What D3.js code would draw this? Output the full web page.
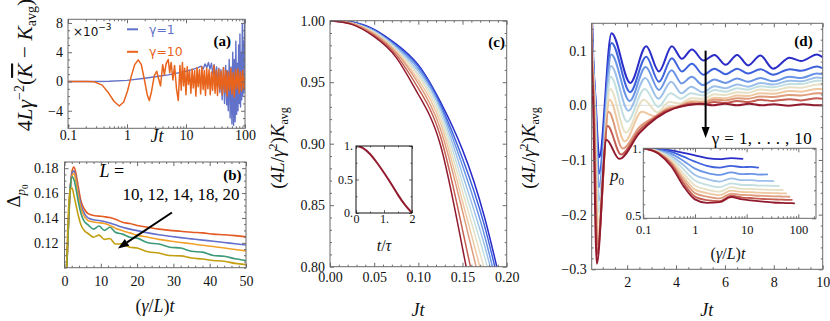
<!DOCTYPE html>
<html lang="en">
<head>
<meta charset="utf-8">
<script src="https://cdn.jsdelivr.net/npm/d3@7"></script>
<style>
  body { margin: 0; background: #fff; }
  svg { font-family: "Liberation Serif", "DejaVu Serif", serif; }
  .ax .domain { display: none; }
  .ax line { stroke: #6a6a6a; }
  .ax text { font-family: "Liberation Serif", serif; font-size: 14px; fill: #111; }
  .frame { fill: none; stroke: #6a6a6a; stroke-width: 1; }
  .curve { fill: none; stroke-linejoin: round; stroke-linecap: round; }
</style>
</head>
<body>
<div id="canvas"></div>
<script>
// ---------- panel (a): 4L gamma^-2 (Kbar - Kavg), in units of 1e-3 ----------
var aGamma1 = [[0.1,0],[0.3,0],[0.5,0.03],[1,0.15],[2,0.45],[3,0.65],[5,0.9],[7,1.15],[10,1.4],[13,1.65],[16,1.9],
  [18,2.1],[19.5,1.7],[21,2.4],[22.5,1.9],[24,2.6],[25.5,1.7],[27,2.5],[28.5,1.0],[30,2.3],[31.5,0.2],[33,2.0],
  [34.5,-0.8],[36,1.8],[37.5,-1.5],[39,1.6],[41,-2.5],[43,1.9],[45,-3.0],[47,2.2],[49,-3.2],[50,1.5],[52,-4.0],
  [54,3.0],[56,-5.0],[58,2.0],[60,-5.8],[62,4.0],[64,-6.0],[66,3.0],[68,-5.5],[70,5.5],[72,-4.5],[74,2.5],[76,-4.0],
  [78,5.0],[80,-3.0],[82,6.5],[84,-3.5],[86,4.0],[88,-2.5],[90,7.8],[92,-2.0],[94,5.5],[96,-1.5],[98,8.3],[100,2.0]];
var aGamma10 = [[0.1,0],[0.2,0],[0.28,-0.05],[0.38,-0.5],[0.48,-1.5],[0.6,-2.7],[0.74,-3.35],[0.88,-2.8],[1.02,-1.3],
  [1.18,0.7],[1.35,2.3],[1.55,2.95],[1.75,2.3],[2.0,0.0],[2.2,-1.8],[2.39,-2.6],[2.6,-1.4],[2.9,0.8],[3.19,1.4],
  [3.45,0.3],[3.7,-0.6],[4.03,2.3],[4.3,0.9],[4.6,2.4],[5.0,3.0],[5.3,1.2],[5.6,2.6],[6.0,0.2],[6.4,2.2],[6.9,-1.0],
  [7.4,-2.6],[7.9,2.2],[8.3,-1.2],[8.7,2.6],[9.1,-0.6],[9.5,1.8],[10,-1.8],[10.5,2.0],[11,-0.4],[11.5,1.4],[12.1,-1.6],
  [12.7,1.7],[13.3,-0.9],[14,1.5],[14.7,-2.0],[15.4,1.9],[16.1,-0.7],[16.9,1.6],[17.7,-1.7],[18.6,2.0],[19.5,-1.1],
  [20.4,1.5],[21.4,-1.9],[22.4,1.8],[23.5,-1.0],[24.6,1.6],[25.8,-1.8],[27,1.3],[28.3,-1.2],[29.7,2.2],[31.1,-1.6],
  [32.6,1.5],[34.2,-1.9],[35.8,1.7],[37.5,-1.1],[39.3,1.4],[41.2,-1.8],[43.2,1.9],[45.3,-1.4],[47.5,1.5],[49.8,-2.0],
  [52.2,1.3],[54.7,-1.2],[57.3,1.8],[60,-1.7],[62.9,1.2],[65.9,-2.1],[69.1,1.6],[72.4,-1.0],[75.9,1.7],[79.5,-1.6],
  [83.3,1.3],[87.3,-1.3],[91.5,1.5],[95.9,-1.1],[100,0.6]];
var aLegend = ["\u03b3=1", "\u03b3=10"];

// ---------- panel (b): Delta_p0 vs (gamma/L) t ----------
var bSizes = ["10", "12", "14", "18", "20"];
var bX = [0.5,1.0,1.6,2.1,2.6,3.2,3.8,4.6,5.5,6.5,8,9.5,11,12.5,14,16,18,20,23,26,29,32,35,38,41,44,47,50];
var bL10 = [0.09,0.13,0.165,0.178,0.181,0.175,0.165,0.153,0.147,0.1435,0.142,0.1415,0.141,0.1403,0.139,0.1365,0.1355,0.134,0.1325,0.131,0.130,0.1293,0.1285,0.128,0.127,0.1265,0.1258,0.1248];
var bL12 = [0.09,0.128,0.163,0.176,0.178,0.171,0.161,0.150,0.1435,0.140,0.1385,0.138,0.1372,0.136,0.1345,0.1325,0.131,0.1298,0.128,0.1265,0.1253,0.1242,0.1232,0.1222,0.1213,0.1203,0.1192,0.1182];
var bL14 = [0.09,0.127,0.162,0.174,0.176,0.169,0.158,0.147,0.141,0.138,0.1368,0.1362,0.1355,0.134,0.1318,0.1298,0.128,0.1262,0.1245,0.1228,0.1215,0.1203,0.1192,0.118,0.117,0.1158,0.1146,0.1135];
var bL18 = [0.09,0.13,0.165,0.173,0.171,0.163,0.153,0.143,0.137,0.1345,0.131,0.1335,0.130,0.1325,0.1285,0.127,0.1245,0.1238,0.120,0.119,0.1165,0.1158,0.1132,0.1125,0.1098,0.1092,0.1072,0.1058];
var bL20 = [0.095,0.14,0.163,0.164,0.158,0.150,0.142,0.134,0.1298,0.1275,0.1245,0.1262,0.1228,0.1235,0.119,0.1192,0.1165,0.1158,0.1128,0.1118,0.1098,0.1095,0.1078,0.107,0.1058,0.1052,0.1035,0.1025];

// ---------- panel (c): (4L/gamma^2) K_avg at short times, gamma = 1..10 ----------
var cT = [0, 0.025, 0.05, 0.075, 0.1, 0.125, 0.15, 0.175, 0.2];
var cK = [
  [1, 0.999, 0.993, 0.981, 0.964, 0.934, 0.895, 0.840, 0.765],
  [1, 0.999, 0.992, 0.980, 0.963, 0.932, 0.888, 0.833, 0.758],
  [1, 0.998, 0.992, 0.979, 0.961, 0.930, 0.882, 0.825, 0.750],
  [1, 0.998, 0.991, 0.978, 0.959, 0.928, 0.875, 0.817, 0.745],
  [1, 0.998, 0.991, 0.977, 0.957, 0.925, 0.868, 0.808, 0.735],
  [1, 0.998, 0.990, 0.976, 0.955, 0.921, 0.861, 0.797, 0.720],
  [1, 0.998, 0.990, 0.975, 0.952, 0.917, 0.853, 0.784, 0.700],
  [1, 0.998, 0.989, 0.974, 0.949, 0.912, 0.845, 0.770, 0.680],
  [1, 0.997, 0.988, 0.972, 0.945, 0.906, 0.830, 0.745, 0.650],
  [1, 0.997, 0.987, 0.970, 0.940, 0.899, 0.815, 0.720, 0.600]
];
var cInsetT = [0, 0.25, 0.5, 0.75, 1, 1.25, 1.5, 1.75, 2];
var cInsetV = [1, 0.97, 0.88, 0.75, 0.6, 0.44, 0.27, 0.12, 0];

// ---------- panel (d): (4L/gamma^2) K_avg, gamma = 1..10 ----------
var dGamma1 = [[0.45,0.5],[0.57,0.15],[0.72,0],[0.86,-0.095],[1.36,0.132],[2.13,0.041],[2.78,0.108],[3.3,0.062],[3.83,0.108],[4.24,0.085],[4.65,0.102],[5.12,0.082],[5.57,0.092],[6.03,0.074],[6.5,0.092],[6.95,0.073],[7.45,0.091],[7.97,0.067],[8.65,0.087],[9.12,0.081],[9.77,0.093],[10,0.088]];
var dGamma2 = [[0.45,0.5],[0.56,0.15],[0.71,0],[0.85,-0.125],[1.36,0.114],[2.12,0.024],[2.78,0.089],[3.3,0.043],[3.83,0.086],[4.24,0.062],[4.65,0.076],[5.12,0.056],[5.57,0.067],[6.03,0.057],[6.5,0.067],[6.95,0.058],[7.45,0.066],[7.97,0.056],[8.65,0.066],[9.12,0.063],[9.77,0.071],[10,0.068]];
var dGamma3 = [[0.45,0.5],[0.555,0.15],[0.70,0],[0.84,-0.15],[1.35,0.093],[2.1,0.008],[2.76,0.070],[3.3,0.028],[3.82,0.064],[4.23,0.040],[4.64,0.052],[5.1,0.037],[5.57,0.047],[6.03,0.041],[6.5,0.049],[6.95,0.043],[7.45,0.050],[7.97,0.044],[8.65,0.052],[9.12,0.050],[9.77,0.058],[10,0.057]];
var dGamma4 = [[0.45,0.5],[0.55,0.15],[0.69,0],[0.83,-0.175],[1.34,0.072],[2.05,-0.010],[2.74,0.050],[3.28,0.012],[3.8,0.043],[4.22,0.022],[4.62,0.034],[5.1,0.024],[5.57,0.035],[6.03,0.031],[6.5,0.038],[6.95,0.034],[7.45,0.041],[7.97,0.038],[8.65,0.045],[9.12,0.044],[9.77,0.051],[10,0.050]];
var dGamma5 = [[0.45,0.5],[0.545,0.15],[0.68,0],[0.82,-0.195],[1.33,0.052],[2.0,-0.030],[2.72,0.030],[3.27,-0.003],[3.78,0.022],[4.2,0.012],[4.6,0.022],[5.1,0.018],[5.57,0.028],[6.03,0.025],[6.5,0.031],[6.95,0.029],[7.45,0.035],[7.97,0.033],[8.65,0.039],[9.12,0.039],[9.77,0.045],[10,0.045]];
var dGamma6 = [[0.45,0.5],[0.54,0.15],[0.67,0],[0.81,-0.215],[1.31,0.030],[1.95,-0.050],[2.68,0.010],[3.24,-0.013],[3.72,0.006],[4.15,0.003],[4.6,0.013],[5.1,0.012],[5.57,0.020],[6.03,0.019],[6.5,0.024],[6.95,0.023],[7.45,0.029],[7.97,0.027],[8.65,0.033],[9.12,0.032],[9.77,0.038],[10,0.038]];
var dGamma7 = [[0.45,0.5],[0.535,0.15],[0.66,0],[0.8,-0.235],[1.28,0.010],[1.9,-0.066],[2.6,-0.012],[3.15,-0.020],[3.65,-0.004],[4.1,-0.001],[4.6,0.008],[5.1,0.007],[5.57,0.014],[6.03,0.013],[6.5,0.018],[6.95,0.017],[7.45,0.022],[7.97,0.021],[8.65,0.026],[9.12,0.025],[9.77,0.030],[10,0.030]];
var dGamma8 = [[0.45,0.5],[0.53,0.15],[0.645,0],[0.79,-0.255],[1.24,-0.012],[1.82,-0.079],[2.5,-0.040],[3.1,-0.022],[3.6,-0.008],[4.1,-0.002],[4.6,0.005],[5.1,0.005],[5.57,0.010],[6.03,0.009],[6.5,0.013],[6.95,0.012],[7.45,0.016],[7.97,0.015],[8.65,0.019],[9.12,0.018],[9.77,0.022],[10,0.022]];
var dGamma9 = [[0.45,0.5],[0.525,0.15],[0.63,0],[0.775,-0.272],[1.2,-0.038],[1.75,-0.090],[2.5,-0.046],[3.1,-0.024],[3.6,-0.010],[4.1,-0.003],[4.6,0.003],[5.1,0.002],[5.57,0.006],[6.03,0.004],[6.5,0.008],[6.95,0.006],[7.45,0.010],[7.97,0.008],[8.65,0.011],[9.12,0.009],[9.77,0.013],[10,0.012]];
var dGamma10 = [[0.45,0.5],[0.52,0.15],[0.61,0],[0.76,-0.29],[1.15,-0.063],[1.68,-0.098],[2.5,-0.051],[3.2,-0.023],[3.9,-0.006],[4.45,0.0],[5.0,0.003],[5.5,0.0],[6.0,0.003],[6.5,0.0],[7.0,0.003],[7.5,0.0],[8.0,0.002],[8.6,-0.001],[9.2,0.002],[9.75,0.0],[10,0.0]];

// inset of (d): p0 vs (gamma/L) t, each curve stops at its own last knot
var dInsetX = [0.1,0.2,0.35,0.6,1,1.7,3,5,8.3,12,16.7,25,33,42,50,58,67,75,83];
var dInset = [
  [1.0,0.995,0.985,0.968,0.95,0.93,0.922,0.93,0.924],
  [1.0,0.99,0.975,0.94,0.905,0.875,0.862,0.875,0.865,0.868,0.862],
  [1.0,0.985,0.96,0.91,0.855,0.825,0.81,0.828,0.815,0.818,0.812,0.814],
  [1.0,0.98,0.945,0.88,0.81,0.78,0.762,0.785,0.772,0.773,0.768,0.768,0.766],
  [1.0,0.977,0.93,0.85,0.77,0.74,0.722,0.75,0.738,0.738,0.734,0.733,0.732,0.731],
  [1.0,0.974,0.915,0.82,0.735,0.705,0.69,0.722,0.71,0.71,0.706,0.704,0.703,0.702,0.702],
  [1.0,0.97,0.905,0.795,0.705,0.68,0.665,0.698,0.688,0.687,0.683,0.681,0.68,0.679,0.678,0.678],
  [1.0,0.967,0.895,0.775,0.68,0.655,0.642,0.676,0.667,0.665,0.661,0.659,0.657,0.656,0.655,0.655,0.654],
  [1.0,0.964,0.885,0.752,0.655,0.63,0.622,0.662,0.648,0.645,0.64,0.637,0.635,0.634,0.633,0.632,0.632,0.631],
  [1.0,0.96,0.87,0.73,0.635,0.61,0.615,0.652,0.635,0.628,0.622,0.617,0.613,0.611,0.61,0.609,0.608,0.608,0.607]
];

// colours
var gammaColors = ["#2a2dc8","#3e62dc","#6a95e6","#9cc0ea","#c4dfe0","#e6e0c4","#efc8a2","#df9c7c","#c45e52","#911a2e"];
var sizeColors = ["#e35a22","#6470cc","#f2a22a","#3c9a7a","#c2a012"];
var aColors = ["#6272c8", "#e8641c"];

var svg = d3.select("#canvas").append("svg").attr("width", 830).attr("height", 321);
var clipCount = 0;

function panel(box, x, y, bg) {
  x.range([0, box.w]);
  y.range([box.h, 0]);
  var g = svg.append("g").attr("transform", "translate(" + box.l + "," + box.t + ")");
  if (bg) g.append("rect").attr("width", box.w).attr("height", box.h).attr("fill", "#fff");
  var id = "clip" + (clipCount++);
  g.append("clipPath").attr("id", id).append("rect").attr("width", box.w).attr("height", box.h);
  var plot = g.append("g").attr("clip-path", "url(#" + id + ")");
  return { g: g, plot: plot, x: x, y: y, w: box.w, h: box.h };
}

function axes(p, o) {
  var L = o.len || 4, l = L / 2;
  var g = p.g.append("g").attr("class", "ax");
  var none = function () { return ""; };
  function add(axis, tr, vals, size, fmt, pad) {
    if (!vals) return;
    g.append("g").attr("transform", tr)
      .call(axis.tickValues(vals).tickSize(size).tickPadding(pad || 0).tickFormat(fmt || none));
  }
  add(d3.axisBottom(p.x), "translate(0," + p.h + ")", o.xMajor, -L, o.xFmt, o.xPad);
  add(d3.axisBottom(p.x), "translate(0," + p.h + ")", o.xMinor, -l);
  add(d3.axisTop(p.x), "translate(0,0)", o.xMajor, -L);
  add(d3.axisTop(p.x), "translate(0,0)", o.xMinor, -l);
  add(d3.axisLeft(p.y), "translate(0,0)", o.yMajor, -L, o.yFmt, o.yPad);
  add(d3.axisLeft(p.y), "translate(0,0)", o.yMinor, -l);
  add(d3.axisRight(p.y), "translate(" + p.w + ",0)", o.yMajor, -L);
  add(d3.axisRight(p.y), "translate(" + p.w + ",0)", o.yMinor, -l);
  if (o.font) g.selectAll("text").style("font-size", o.font + "px");
  p.g.append("rect").attr("class", "frame").attr("width", p.w).attr("height", p.h)
    .style("stroke", o.frame || "#6a6a6a");
}

// text with italic pieces, sub- and superscripts
function rich(sel, parts) {
  var cur = 0;
  parts.forEach(function (q) {
    var s = q.up ? -q.up : (q.down || 0);
    var t = sel.append("tspan").text(q.t).attr("dy", s - cur);
    cur = s;
    if (q.i) t.attr("font-style", "italic");
    if (q.s) t.attr("font-size", q.s);
    if (q.over) t.style("text-decoration", "overline");
  });
  return sel;
}

function label(x, y, size, anchor, rot) {
  var t = svg.append("text").attr("font-size", size).attr("fill", "#111")
    .attr("text-anchor", anchor || "middle");
  if (rot) t.attr("transform", "translate(" + x + "," + y + ") rotate(-90)");
  else t.attr("x", x).attr("y", y);
  return t;
}

function arrow(g, x1, y1, x2, y2) {
  var dx = x2 - x1, dy = y2 - y1, n = Math.sqrt(dx * dx + dy * dy), ux = dx / n, uy = dy / n;
  var hl = 11, hw = 4;
  var bx = x2 - ux * hl, by = y2 - uy * hl;
  g.append("line").attr("x1", x1).attr("y1", y1).attr("x2", bx).attr("y2", by)
    .attr("stroke", "#000").attr("stroke-width", 2);
  g.append("path").attr("fill", "#000")
    .attr("d", "M" + x2 + "," + y2 + "L" + (bx - uy * hw) + "," + (by + ux * hw) + "L" + (bx + uy * hw) + "," + (by - ux * hw) + "Z");
}

function logMinor(lo, hi) {
  var out = [];
  for (var e = lo; e < hi; e *= 10) for (var k = 2; k <= 9; k++) out.push(e * k);
  return out;
}
function minorRange(a, b, step, major) {
  return d3.range(a, b + step / 2, step).filter(function (v) {
    return !major.some(function (m) { return Math.abs(m - v) < step / 10; });
  });
}

var logFmt = function (d) { return d < 1 ? "0.1" : String(d); };

// ================= (a) =================
var pa = panel({ l: 68, t: 19.3, w: 177, h: 109 }, d3.scaleLog().domain([0.1, 100]), d3.scaleLinear().domain([-6.4, 8.5]));
var aLine = d3.line().x(function (d) { return pa.x(d[0]); }).y(function (d) { return pa.y(d[1]); });
pa.plot.append("path").datum(aGamma1).attr("class", "curve").attr("d", aLine).attr("stroke", aColors[0]).attr("stroke-width", 1.4);
pa.plot.append("path").datum(aGamma10).attr("class", "curve").attr("d", aLine).attr("stroke", aColors[1]).attr("stroke-width", 1.5);
axes(pa, { xMajor: [0.1, 1, 10, 100], xMinor: logMinor(0.1, 100), xFmt: logFmt, xPad: 2,
  yMajor: [-4, 0, 4, 8], yMinor: minorRange(-6, 8, 1, [-4, 0, 4, 8]), yFmt: d3.format("d"), yPad: 5 });
// legend
aLegend.forEach(function (s, i) {
  var yy = 10 + i * 22.5;
  pa.g.append("line").attr("x1", 59).attr("x2", 70).attr("y1", yy).attr("y2", yy)
    .attr("stroke", aColors[i]).attr("stroke-width", 2);
  pa.g.append("text").attr("x", 81).attr("y", yy + 4.5).attr("fill", aColors[i])
    .attr("font-family", "DejaVu Sans, sans-serif").attr("font-size", 12.5).text(s);
});
var sci = pa.g.append("text").attr("x", 5).attr("y", 17).attr("font-family", "DejaVu Sans, sans-serif").attr("font-size", 12).attr("fill", "#111");
rich(sci, [{ t: "\u00d710" }, { t: "\u22123", up: 6, s: "9px" }]);
pa.g.append("text").attr("x", 163).attr("y", 26.5).attr("text-anchor", "end").attr("font-weight", "bold").attr("font-size", 15).text("(a)");
rich(label(157, 142, 18), [{ t: "J", i: 1 }, { t: "t", i: 1 }]);
rich(label(32, 65, 21.5, "middle", true),
  [{ t: "4" }, { t: "L", i: 1 }, { t: "\u03b3", i: 1 }, { t: "\u22122", up: 8, s: "14px" },
  { t: "(" }, { t: "K", i: 1, over: 1 }, { t: " \u2212 " }, { t: "K", i: 1 }, { t: "avg", down: 4, s: "14px" }, { t: ")" }]);

// ================= (b) =================
var pb = panel({ l: 64.5, t: 162, w: 181.5, h: 105.7 }, d3.scaleLinear().domain([0, 50]), d3.scaleLinear().domain([0.1, 0.185]));
var bLine = d3.line().x(function (d, i) { return pb.x(bX[i]); }).y(function (d) { return pb.y(d); }).curve(d3.curveMonotoneX);
[bL10, bL12, bL14, bL18, bL20].forEach(function (s, i) {
  pb.plot.append("path").datum(s).attr("class", "curve").attr("d", bLine).attr("stroke", sizeColors[i]).attr("stroke-width", 1.6);
});
axes(pb, { xMajor: [0, 10, 20, 30, 40, 50], xMinor: minorRange(0, 50, 2, [0, 10, 20, 30, 40, 50]), xFmt: d3.format("d"), xPad: 8,
  yMajor: [0.12, 0.14, 0.16, 0.18], yMinor: minorRange(0.1, 0.185, 0.005, [0.12, 0.14, 0.16, 0.18]), yFmt: d3.format(".2f"), yPad: 6 });
arrow(pb.g, pb.x(29.6), pb.y(0.1444), pb.x(14.7), pb.y(0.1155));
rich(pb.g.append("text").attr("x", 35).attr("y", 15).attr("font-size", 18), [{ t: "L", i: 1 }, { t: " =" }]);
pb.g.append("text").attr("x", 58).attr("y", 38).attr("font-size", 17).attr("textLength", 117).attr("lengthAdjust", "spacing")
  .text(bSizes.join(", "));
pb.g.append("text").attr("x", 177).attr("y", 18).attr("text-anchor", "end").attr("font-weight", "bold").attr("font-size", 15).text("(b)");
rich(label(155, 312, 18), [{ t: "(" }, { t: "\u03b3", i: 1 }, { t: "/" }, { t: "L", i: 1 }, { t: ")" }, { t: "t", i: 1 }]);
rich(label(20, 196, 19, "middle", true), [{ t: "\u0394" }, { t: "p", i: 1, down: 5, s: "13px" }, { t: "0", down: 8, s: "9px" }]);

// ================= (c) =================
var pc = panel({ l: 330, t: 20.7, w: 176.7, h: 246 }, d3.scaleLinear().domain([0, 0.2]), d3.scaleLinear().domain([0.8, 1.0]));
var cLine = d3.line().x(function (d, i) { return pc.x(cT[i]); }).y(function (d) { return pc.y(d); }).curve(d3.curveNatural);
cK.forEach(function (s, i) {
  pc.plot.append("path").datum(s).attr("class", "curve").attr("d", cLine).attr("stroke", gammaColors[i]).attr("stroke-width", 1.5);
});
axes(pc, { xMajor: [0, 0.05, 0.1, 0.15, 0.2], xMinor: minorRange(0, 0.2, 0.01, [0, 0.05, 0.1, 0.15, 0.2]), xFmt: d3.format(".2f"), xPad: 5,
  yMajor: [0.8, 0.85, 0.9, 0.95, 1.0], yMinor: minorRange(0.8, 1.0, 0.01, [0.8, 0.85, 0.9, 0.95, 1.0]), yFmt: d3.format(".2f"), yPad: 5 });
pc.g.append("text").attr("x", 175).attr("y", 26).attr("text-anchor", "end").attr("font-weight", "bold").attr("font-size", 15).text("(c)");
rich(label(418, 316, 18), [{ t: "J", i: 1 }, { t: "t", i: 1 }]);
rich(label(284, 148, 19, "middle", true), [{ t: "(4" }, { t: "L", i: 1 }, { t: "/" }, { t: "\u03b3", i: 1 }, { t: "2", up: 7, s: "12px" },
  { t: ")" }, { t: "K", i: 1 }, { t: "avg", down: 4, s: "12px" }]);

// inset of (c)
var pci = panel({ l: 356, t: 146, w: 56, h: 67 }, d3.scaleLinear().domain([0, 2]), d3.scaleLinear().domain([0, 1]), true);
var ciLine = d3.line().x(function (d, i) { return pci.x(cInsetT[i]); }).y(function (d) { return pci.y(d); }).curve(d3.curveNatural);
pci.plot.append("path").datum(cInsetV).attr("class", "curve").attr("d", ciLine).attr("stroke", gammaColors[9]).attr("stroke-width", 2);
axes(pci, { len: 3, font: 12, frame: "#111", xMajor: [0, 1, 2], xMinor: [0.5, 1.5], xFmt: function (d) { return d === 1 ? "1." : String(d); }, xPad: 1,
  yMajor: [0, 0.5, 1], yMinor: [0.25, 0.75], yFmt: function (d) { return d === 0.5 ? "0.5" : d + "."; }, yPad: 3 });
rich(label(384, 251, 16), [{ t: "t", i: 1 }, { t: "/" }, { t: "\u03c4", i: 1 }]);

// ================= (d) =================
var pd = panel({ l: 591.7, t: 23.3, w: 231, h: 246 }, d3.scaleLinear().domain([0.55, 10]), d3.scaleLinear().domain([-0.3, 0.15]));
pd.plot.append("line").attr("x1", 0).attr("x2", pd.w).attr("y1", pd.y(0)).attr("y2", pd.y(0)).attr("stroke", "#d4d4d4").attr("stroke-width", 0.8);
var dLine = d3.line().x(function (d) { return pd.x(d[0]); }).y(function (d) { return pd.y(d[1]); }).curve(d3.curveMonotoneX);
[dGamma1, dGamma2, dGamma3, dGamma4, dGamma5, dGamma6, dGamma7, dGamma8, dGamma9, dGamma10].forEach(function (s, i) {
  pd.plot.append("path").datum(s).attr("class", "curve").attr("d", dLine).attr("stroke", gammaColors[i]).attr("stroke-width", 2);
});
axes(pd, { xMajor: [2, 4, 6, 8, 10], xMinor: minorRange(1, 10, 0.5, [2, 4, 6, 8, 10]), xFmt: d3.format("d"), xPad: 8,
  yMajor: [-0.3, -0.2, -0.1, 0, 0.1], yMinor: minorRange(-0.3, 0.15, 0.02, [-0.3, -0.2, -0.1, 0, 0.1]), yFmt: d3.format(".1f"), yPad: 5 });
arrow(pd.g, pd.x(5.21), pd.y(0.1), pd.x(5.21), pd.y(-0.06));
pd.g.append("text").attr("x", 120).attr("y", 120.5).attr("font-size", 17).attr("textLength", 100).attr("lengthAdjust", "spacing")
  .text("\u03b3 = 1, . . . , 10");
pd.g.append("text").attr("x", 221).attr("y", 23).attr("text-anchor", "end").attr("font-weight", "bold").attr("font-size", 15).text("(d)");
rich(label(706.7, 316, 18), [{ t: "J", i: 1 }, { t: "t", i: 1 }]);
rich(label(535, 148, 19, "middle", true), [{ t: "(4" }, { t: "L", i: 1 }, { t: "/" }, { t: "\u03b3", i: 1 }, { t: "2", up: 7, s: "12px" },
  { t: ")" }, { t: "K", i: 1 }, { t: "avg", down: 4, s: "12px" }]);

// inset of (d)
var pdi = panel({ l: 643.3, t: 148.3, w: 172.7, h: 70 }, d3.scaleLog().domain([0.1, 220]), d3.scaleLinear().domain([0.5, 1]), true);
var diLine = d3.line().x(function (d, i) { return pdi.x(dInsetX[i]); }).y(function (d) { return pdi.y(d); }).curve(d3.curveMonotoneX);
dInset.forEach(function (s, i) {
  pdi.plot.append("path").datum(s).attr("class", "curve").attr("d", diLine).attr("stroke", gammaColors[i]).attr("stroke-width", 1.8);
});
axes(pdi, { len: 4, font: 12.5, xMajor: [0.1, 1, 10, 100], xMinor: logMinor(0.1, 100).concat([200]), xFmt: logFmt, xPad: 7,
  yMajor: [0.5, 1], yMinor: [0.6, 0.7, 0.8, 0.9], yFmt: function (d) { return d === 1 ? "1." : "0.5"; }, yPad: 2 });
// lift the lower y label a little so it clears the x labels
pdi.g.selectAll(".ax text").filter(function () { return this.textContent === "0.5"; }).attr("dy", "0.1em");
rich(label(728, 259, 16), [{ t: "(" }, { t: "\u03b3", i: 1 }, { t: "/" }, { t: "L", i: 1 }, { t: ")" }, { t: "t", i: 1 }]);
rich(label(610, 181, 17, "start"), [{ t: "p", i: 1 }, { t: "0", down: 4, s: "11px" }]);
</script>
</body>
</html>
